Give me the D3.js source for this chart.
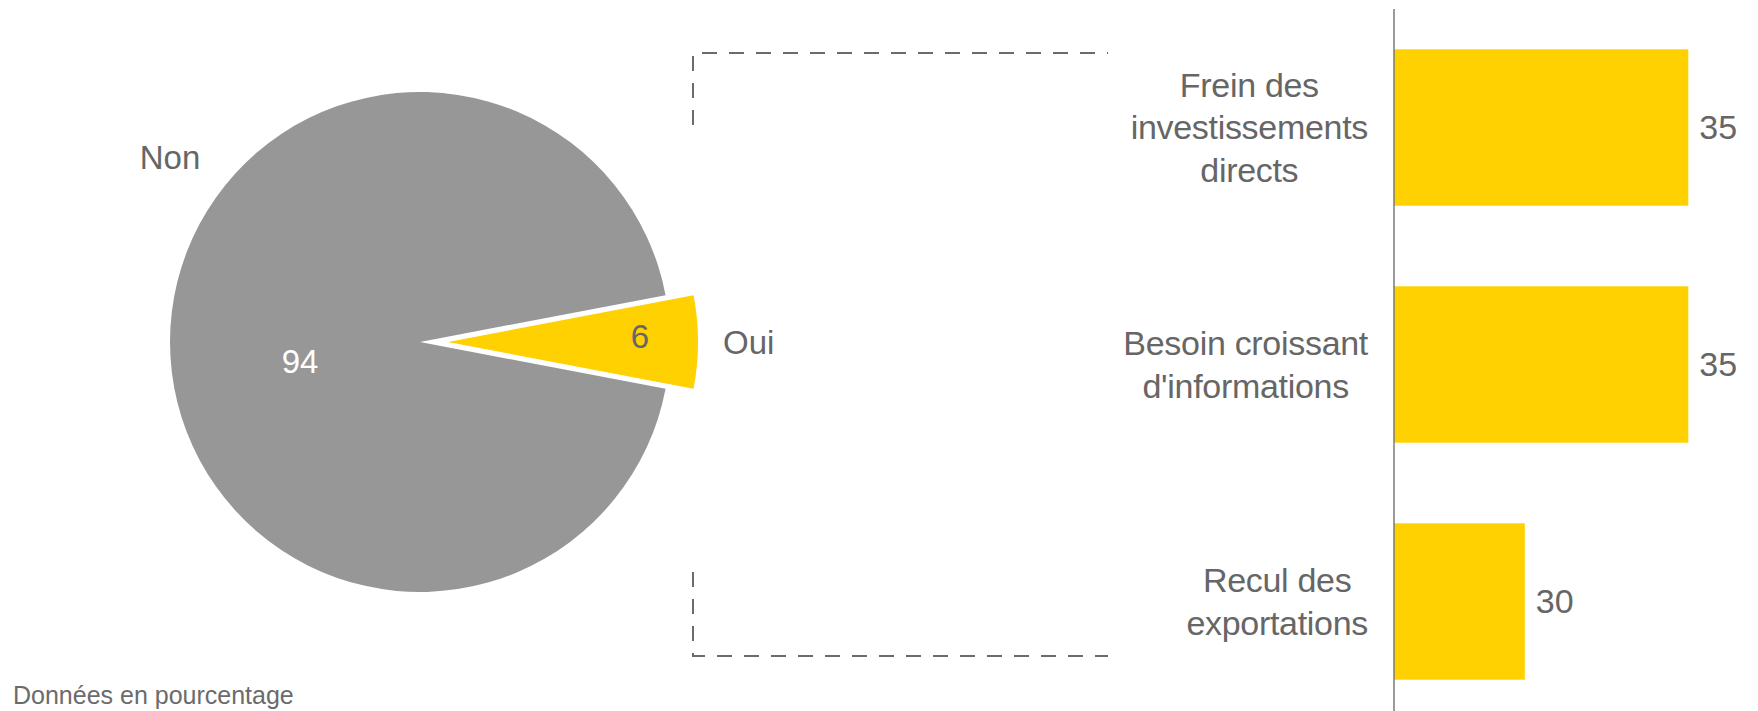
<!DOCTYPE html>
<html>
<head>
<meta charset="utf-8">
<script src="https://cdn.jsdelivr.net/npm/d3@7"></script>
<style>
  html, body { margin: 0; padding: 0; background: #fff; }
  svg { display: block; font-family: "Liberation Sans", Arial, sans-serif; }
</style>
</head>
<body>
<svg id="chart"></svg>
<script>
// pie: share of firms answering yes / no
const pieLabels = ["Oui", "Non"];
const pieValues = [6, 94];
const pieColors = ["#ffd100", "#979797"];

// bar breakdown of the "Oui" answers
const barCategories = [
  ["Frein des", "investissements", "directs"],
  ["Besoin croissant", "d'informations"],
  ["Recul des", "exportations"],
];
const barValues = [35, 35, 30];
const note = "Données en pourcentage";

const width = 1758, height = 711;
const svg = d3.select("#chart").attr("width", width).attr("height", height);
const textColor = "#666666";

// ---- pie ----
const cx = 420, cy = 342, r = 250, explode = 28;
const oui = pieValues[0] / d3.sum(pieValues);
const start = Math.PI / 2 - oui * Math.PI;   // center the small slice at 3 o'clock

const pie = d3.pie().sort(null).startAngle(start).endAngle(start + 2 * Math.PI);
const arc = d3.arc().innerRadius(0).outerRadius(r);
const arcs = pie(pieValues);

const pieG = svg.append("g").attr("transform", `translate(${cx},${cy})`);

function shift(d, i) {
  if (i !== 0) return [0, 0];
  const mid = (d.startAngle + d.endAngle) / 2;
  return [Math.sin(mid) * explode, -Math.cos(mid) * explode];
}

pieG.selectAll("path")
  .data(arcs)
  .join("path")
  .attr("d", arc)
  .attr("fill", (d, i) => pieColors[i])
  .attr("transform", (d, i) => `translate(${shift(d, i)})`);

// value labels inside slices
const valPos = [
  { x: 220, y: -6, fill: textColor },   // 6 (relative to center, plus explode)
  { x: -120, y: 19, fill: "#ffffff" },  // 94
];
pieG.selectAll("text.val")
  .data(arcs)
  .join("text")
  .attr("class", "val")
  .attr("x", (d, i) => valPos[i].x)
  .attr("y", (d, i) => valPos[i].y)
  .attr("dy", "0.35em")
  .attr("text-anchor", "middle")
  .attr("font-size", 33)
  .attr("fill", (d, i) => valPos[i].fill)
  .text((d, i) => pieValues[i]);

// category labels outside
const namePos = [
  { x: 303, y: 0, anchor: "start" },      // Oui
  { x: -250, y: -185, anchor: "middle" }, // Non
];
pieG.selectAll("text.name")
  .data(pieLabels)
  .join("text")
  .attr("class", "name")
  .attr("x", (d, i) => namePos[i].x)
  .attr("y", (d, i) => namePos[i].y)
  .attr("dy", "0.35em")
  .attr("text-anchor", (d, i) => namePos[i].anchor)
  .attr("font-size", 33)
  .attr("fill", textColor)
  .text(d => d);

// ---- dashed bracket linking pie to bars ----
const br = { left: 693, right: 1108, top: 53, bottom: 656, stub: 72 };
const bracket = d3.path();
bracket.moveTo(br.left, br.top + br.stub);
bracket.lineTo(br.left, br.top);
bracket.lineTo(br.right, br.top);
bracket.moveTo(br.left, br.bottom - br.stub - 12);
bracket.lineTo(br.left, br.bottom);
bracket.lineTo(br.right, br.bottom);
svg.append("path")
  .attr("d", bracket.toString())
  .attr("fill", "none")
  .attr("stroke", "#6b6b6b")
  .attr("stroke-width", 2)
  .attr("stroke-dasharray", "15,12");

// ---- bars ----
const x0 = 1394;
const x = d3.scaleLinear().domain([26, 36]).range([x0, x0 + 327]);
const y = d3.scaleBand()
  .domain(d3.range(barValues.length))
  .range([9, 720])
  .paddingInner(0.34)
  .paddingOuter(0.17);

svg.selectAll("rect.bar")
  .data(barValues)
  .join("rect")
  .attr("class", "bar")
  .attr("x", x0)
  .attr("y", (d, i) => y(i))
  .attr("width", d => x(d) - x0)
  .attr("height", y.bandwidth())
  .attr("fill", "#ffd100");

svg.append("line")
  .attr("x1", x0).attr("x2", x0)
  .attr("y1", 9).attr("y2", height)
  .attr("stroke", "#7a7a7a")
  .attr("stroke-width", 1.5);

svg.selectAll("text.barval")
  .data(barValues)
  .join("text")
  .attr("class", "barval")
  .attr("x", d => x(d) + 11)
  .attr("y", (d, i) => y(i) + y.bandwidth() / 2)
  .attr("dy", "0.35em")
  .attr("font-size", 34)
  .attr("fill", textColor)
  .text(d => d);

// multi-line category labels: block right-aligned, lines centered inside
const labelRight = 1368, lineH = 42.5;
barCategories.forEach((lines, i) => {
  const g = svg.append("g");
  const yc = y(i) + y.bandwidth() / 2;
  const texts = g.selectAll("text")
    .data(lines)
    .join("text")
    .attr("y", (d, j) => yc + (j - (lines.length - 1) / 2) * lineH)
    .attr("dy", "0.35em")
    .attr("text-anchor", "middle")
    .attr("font-size", 34)
    .attr("letter-spacing", -0.3)
    .attr("fill", textColor)
    .text(d => d);
  let maxW = 0;
  texts.each(function () { maxW = Math.max(maxW, this.getComputedTextLength()); });
  texts.attr("x", labelRight - maxW / 2);
});

// footnote
svg.append("text")
  .attr("x", 13)
  .attr("y", 695)
  .attr("dy", "0.35em")
  .attr("font-size", 25)
  .attr("fill", "#6b6b6b")
  .text(note);
</script>
</body>
</html>
